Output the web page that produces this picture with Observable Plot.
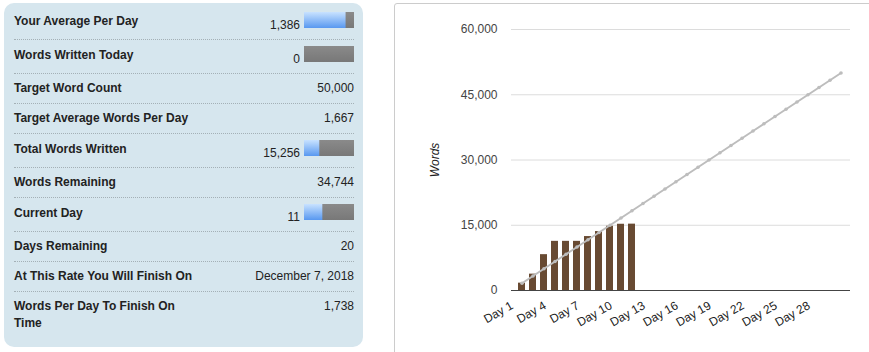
<!DOCTYPE html>
<html><head><meta charset="utf-8">
<script src="https://cdn.jsdelivr.net/npm/d3@7"></script>
<script src="https://cdn.jsdelivr.net/npm/@observablehq/plot@0.6"></script>
<style>
html,body{margin:0;padding:0;background:#fff;width:869px;height:352px;overflow:hidden;font-family:Arial,"Liberation Sans",sans-serif;}
#panel{position:absolute;left:4px;top:3px;width:340px;height:341px;padding:3px 9px 0 10px;background:#d6e6ee;border-radius:10px;}
.row{position:relative;border-bottom:1px dotted #a4b0b6;}
.row.text{height:29px}
.row.gauge{height:33px}
.row.last{border-bottom:none;height:50px}
.lbl{position:absolute;left:0;top:6px;width:180px;font-weight:bold;font-size:12px;line-height:17px;color:#222}
.gauge .lbl{top:7px}
.val{position:absolute;right:0;top:6px;font-size:12px;line-height:17px;color:#222;white-space:nowrap}
.gauge .val{right:54px;top:11px}
.g{position:absolute;right:0;top:6px;width:50px;height:16px}
.g svg{display:block}
#chartbox{position:absolute;left:394px;top:3px;width:480px;height:360px;border:1px solid #ccc;border-radius:3px;background:#fff}
#chartbox svg{display:block}
</style></head>
<body>
<svg width="0" height="0" style="position:absolute">
  <defs>
    <linearGradient id="gBlue" x1="0" y1="0" x2="0" y2="1">
      <stop offset="0" stop-color="#c8e2ff"/><stop offset="1" stop-color="#5898f0"/>
    </linearGradient>
    <linearGradient id="gGrey" x1="0" y1="0" x2="0" y2="1">
      <stop offset="0" stop-color="#8a8a8a"/><stop offset="1" stop-color="#787878"/>
    </linearGradient>
  </defs>
</svg>
<div id="panel"></div>
<div id="chartbox"></div>
<script>
// ---- stats panel data ----
const statLabels = ["Your Average Per Day","Words Written Today","Target Word Count","Target Average Words Per Day","Total Words Written","Words Remaining","Current Day","Days Remaining","At This Rate You Will Finish On","Words Per Day To Finish On Time"];
const statValues = ["1,386","0","50,000","1,667","15,256","34,744","11","20","December 7, 2018","1,738"];
const gaugeValues = [1386, 0, null, null, 15256, null, 11, null, null, null];
const gaugeMaxes = [1667, 1667, null, null, 50000, null, 30, null, null, null];

// ---- chart data ----
const days = ["Day 1","Day 2","Day 3","Day 4","Day 5","Day 6","Day 7","Day 8","Day 9","Day 10","Day 11","Day 12","Day 13","Day 14","Day 15","Day 16","Day 17","Day 18","Day 19","Day 20","Day 21","Day 22","Day 23","Day 24","Day 25","Day 26","Day 27","Day 28","Day 29","Day 30"];
const wordsWritten = [1690, 3760, 8240, 11300, 11300, 11300, 12400, 13550, 14770, 15230, 15256, 0, 0, 0, 0, 0, 0, 0, 0, 0, 0, 0, 0, 0, 0, 0, 0, 0, 0, 0];
const targetWords = [1667, 3333, 5000, 6667, 8333, 10000, 11667, 13333, 15000, 16667, 18333, 20000, 21667, 23333, 25000, 26667, 28333, 30000, 31667, 33333, 35000, 36667, 38333, 40000, 41667, 43333, 45000, 46667, 48333, 50000];
const xTicks = ["Day 1","Day 4","Day 7","Day 10","Day 13","Day 16","Day 19","Day 22","Day 25","Day 28"];
const yTicks = [0, 15000, 30000, 45000, 60000];

function gauge(value, max) {
  return Plot.plot({
    width: 50, height: 16, margin: 0,
    x: {domain: [0, max], axis: null},
    style: {background: "transparent"},
    marks: [
      Plot.barX([max], {x: d => d, fill: "url(#gGrey)"}),
      Plot.barX([value], {x: d => d, fill: "url(#gBlue)"})
    ]
  });
}

const panel = document.getElementById("panel");
statLabels.forEach((label, i) => {
  const row = document.createElement("div");
  const hasGauge = gaugeValues[i] !== null;
  row.className = "row " + (hasGauge ? "gauge" : "text") + (i === statLabels.length - 1 ? " last" : "");
  const l = document.createElement("div"); l.className = "lbl"; l.textContent = label; row.appendChild(l);
  const v = document.createElement("div"); v.className = "val"; v.textContent = statValues[i]; row.appendChild(v);
  if (hasGauge) {
    const g = document.createElement("div"); g.className = "g";
    g.appendChild(gauge(gaugeValues[i], gaugeMaxes[i]));
    row.appendChild(g);
  }
  panel.appendChild(row);
});

const data = days.map((day, i) => ({day, words: wordsWritten[i], target: targetWords[i]}));
const chart = Plot.plot({
  width: 474, height: 348,
  marginLeft: 116, marginRight: 19, marginTop: 25, marginBottom: 62,
  style: {fontFamily: "Arial, 'Liberation Sans', sans-serif", fontSize: "12px", background: "transparent", color: "#444"},
  x: {domain: days, paddingInner: 0.4, paddingOuter: 0.2},
  y: {domain: [0, 60000]},
  marks: [
    Plot.gridY(yTicks.filter(v => v > 0), {stroke: "#dcdcdc", strokeOpacity: 1}),
    Plot.axisY(yTicks, {tickSize: 0, tickPadding: 14, tickFormat: d3.format(","), fill: "#444", label: null}),
    Plot.axisX(xTicks, {tickSize: 0, tickPadding: 14, dx: -10, tickRotate: -30, fill: "#222", label: null}),
    Plot.text(["Words"], {frameAnchor: "left", textAnchor: "middle", dx: -76, rotate: -90, fontStyle: "italic", fill: "#222"}),
    Plot.barY(data, {x: "day", y: "words", fill: "#684a32"}),
    Plot.ruleY([0], {stroke: "#444"}),
    Plot.line(data, {x: "day", y: "target", stroke: "#bdbdbd", strokeWidth: 2}),
    Plot.dot(data, {x: "day", y: "target", r: 1.8, fill: "#bdbdbd"})
  ]
});
document.getElementById("chartbox").appendChild(chart);
</script>
</body></html>
